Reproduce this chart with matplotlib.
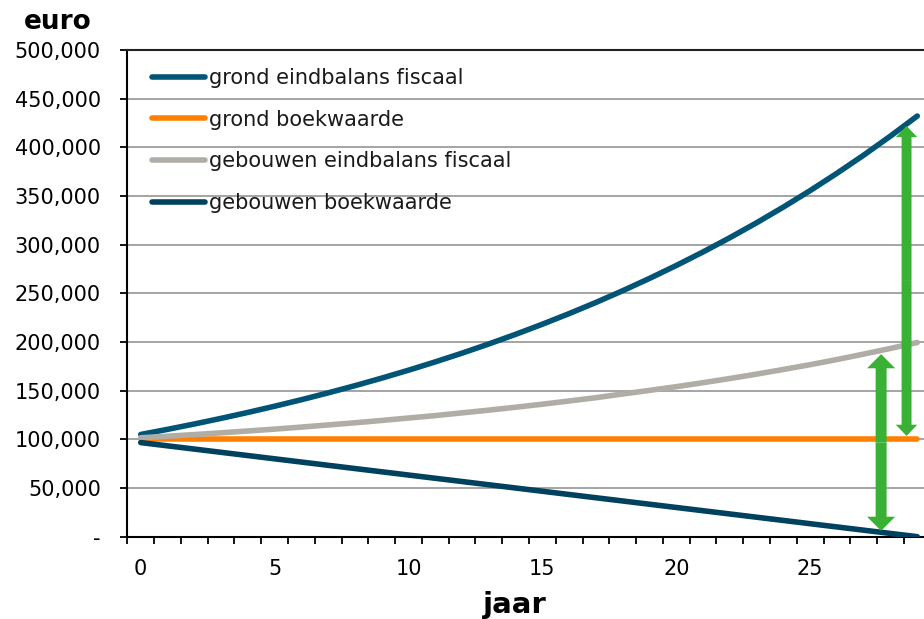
import numpy as np
import matplotlib.pyplot as plt
from matplotlib.patches import FancyArrow
from matplotlib.ticker import FuncFormatter

# ---- data (euro, per jaar) ----
jaar = list(range(30))

grond_fiscaal = [105000, 110250, 115760, 121550, 127630, 134010, 140710, 147750,
                 155130, 162890, 171030, 179590, 188560, 197990, 207890, 218290,
                 229200, 240660, 252700, 265330, 278600, 292530, 307150, 322510,
                 338640, 355570, 373350, 392010, 411610, 432190]
grond_boek = [100000] * 30
gebouwen_fiscaal = [101600, 103200, 104900, 106700, 108600, 110500, 112600, 114800,
                    117000, 119400, 121900, 124400, 127200, 130000, 133000, 136100,
                    139400, 142800, 146600, 150300, 154100, 158200, 162500, 167000,
                    171800, 176700, 182000, 187600, 193400, 199500]
gebouwen_boek = [96670, 93330, 90000, 86670, 83330, 80000, 76670, 73330, 70000,
                 66670, 63330, 60000, 56670, 53330, 50000, 46670, 43330, 40000,
                 36670, 33330, 30000, 26670, 23330, 20000, 16670, 13330, 10000,
                 6670, 3330, 0]

labels = ["grond eindbalans fiscaal", "grond boekwaarde",
          "gebouwen eindbalans fiscaal", "gebouwen boekwaarde"]
colors = ["#005476", "#ff7f00", "#b0ada6", "#00415f"]

# verschil-pijlen: (x, van, tot, schachtbreedte, kopbreedte, koplengte)
pijlen = [(28.6, 103500, 422000, 0.37, 0.80, 11500),
          (27.65, 6000, 187500, 0.41, 1.05, 14500)]
groen = "#38b134"

fs = 15
lw = 4.0

fig = plt.figure(figsize=(9.24, 6.19), dpi=100)
ax = fig.add_axes([0.1378, 0.1330, 0.8694, 0.7862])

series = [grond_fiscaal, grond_boek, gebouwen_fiscaal, gebouwen_boek]
for vals, lab, col in zip(series, labels, colors):
    ax.plot(jaar, vals, color=col, lw=lw, label=lab,
            solid_capstyle="round", zorder=3)

for x, y0, y1, w, hw, hl in pijlen:
    mid = (y0 + y1) / 2
    for a, b in [(mid, y1), (mid, y0)]:
        ax.add_patch(FancyArrow(x, a, 0, b - a, width=w, head_width=hw,
                                head_length=hl, length_includes_head=True,
                                color=groen, lw=0, zorder=4))

ax.set_xlim(-0.5, 29.5)
ax.set_ylim(0, 500000)

ax.set_yticks(np.arange(0, 500001, 50000))
ax.yaxis.set_major_formatter(FuncFormatter(
    lambda v, pos: "-" if v == 0 else f"{int(v):,}"))
ax.set_xticks(range(0, 30, 5))
ax.set_xticks(np.arange(-0.5, 30, 1), minor=True)

ax.tick_params(axis="y", direction="out", length=5, width=1.3,
               labelsize=fs, pad=14, colors="black")
ax.tick_params(axis="x", which="major", length=0, labelsize=fs, pad=16)
ax.tick_params(axis="x", which="minor", direction="out", length=5, width=1.3)

ax.yaxis.grid(True, color="#8c8c8c", lw=1.1)
ax.set_axisbelow(True)
for s in ax.spines.values():
    s.set_linewidth(1.5)
    s.set_color("black")
ax.spines["top"].set_color("#222222")

fig.text(0.062, 0.964, "euro", fontsize=19, fontweight="bold",
         ha="center", va="center")
fig.text(0.557, 0.022, "jaar", fontsize=21, fontweight="bold",
         ha="center", va="center")

leg = ax.legend(loc="upper left", bbox_to_anchor=(0.02, 0.98), frameon=False,
                fontsize=fs, handlelength=2.55, handletextpad=0.22,
                labelspacing=1.04, borderaxespad=0)
for line in leg.get_lines():
    line.set_linewidth(lw)
for t in leg.get_texts():
    t.set_color("#1a1a1a")

fig.savefig("out.png", dpi=100)
